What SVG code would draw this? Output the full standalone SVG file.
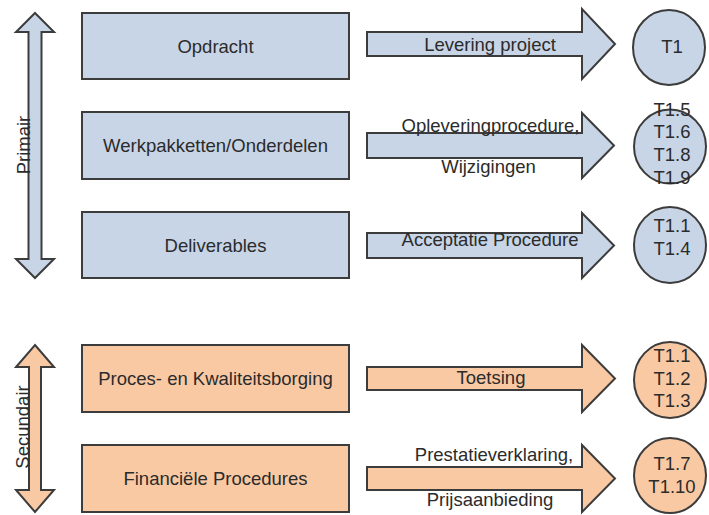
<svg xmlns="http://www.w3.org/2000/svg" width="709" height="515" viewBox="0 0 709 515">
  <style>
    .blue { fill: #c8d5e6; }
    .orange { fill: #f9c9a4; }
    .shape { stroke: #3c3c3c; stroke-width: 2; stroke-linejoin: miter; }
    text { font-family: "Liberation Sans", Arial, sans-serif; font-size: 18.5px; fill: #2b2b2b; }
    .mid { text-anchor: middle; }
  </style>
  <rect width="709" height="515" fill="#ffffff"/>

  <!-- vertical range arrows -->
  <g id="primair">
    <path class="shape blue" d="M35,13 L54,32 L41.5,32 L41.5,259 L54,259 L35,278 L16,259 L28.5,259 L28.5,32 L16,32 Z"/>
    <text class="mid" transform="translate(30,145) rotate(-90)">Primair</text>
  </g>
  <g id="secundair">
    <path class="shape orange" d="M35,345 L54,367 L41,367 L41,490 L54,490 L35,512 L16,490 L29,490 L29,367 L16,367 Z"/>
    <text class="mid" transform="translate(29,427) rotate(-90)">Secundair</text>
  </g>

  <!-- boxes -->
  <g id="opdracht">
    <rect class="shape blue" x="82" y="13" width="267" height="66"/>
    <text class="mid" x="215.5" y="52.5">Opdracht</text>
  </g>
  <g id="werkpakketten">
    <rect class="shape blue" x="82" y="112" width="267" height="67"/>
    <text class="mid" x="215.5" y="152">Werkpakketten/Onderdelen</text>
  </g>
  <g id="deliverables">
    <rect class="shape blue" x="82" y="212" width="267" height="66"/>
    <text class="mid" x="215.5" y="251.5">Deliverables</text>
  </g>
  <g id="proces">
    <rect class="shape orange" x="82" y="345" width="267" height="67"/>
    <text class="mid" x="215.5" y="385">Proces- en Kwaliteitsborging</text>
  </g>
  <g id="financieel">
    <rect class="shape orange" x="82" y="445" width="267" height="67"/>
    <text class="mid" x="215.5" y="485">Financiële Procedures</text>
  </g>

  <!-- connectors: block arrows with labels -->
  <g id="connectors">
    <path class="shape blue" d="M367,32 L582,32 L582,9 L615,44 L582,79 L582,56 L367,56 Z"/>
    <path class="shape blue" d="M367,133 L582,133 L582,113 L614,145.5 L582,178 L582,158 L367,158 Z"/>
    <path class="shape blue" d="M367,233 L582,233 L582,213 L614,245.5 L582,278 L582,258 L367,258 Z"/>
    <path class="shape orange" d="M367,367 L582,367 L582,345 L615,378.5 L582,412 L582,390 L367,390 Z"/>
    <path class="shape orange" d="M367,467 L582,467 L582,445 L615,478.5 L582,512 L582,490 L367,490 Z"/>
    <text class="mid" x="490" y="51">Levering project</text>
    <text class="mid" x="490.5" y="131.5">Opleveringprocedure,</text>
    <text class="mid" x="488.5" y="173">Wijzigingen</text>
    <text class="mid" x="490" y="246">Acceptatie Procedure</text>
    <text class="mid" x="491" y="384">Toetsing</text>
    <text class="mid" x="494" y="461">Prestatieverklaring,</text>
    <text class="mid" x="490" y="506">Prijsaanbieding</text>
  </g>

  <!-- target circles -->
  <g id="t1">
    <ellipse class="shape blue" cx="669" cy="47.5" rx="36" ry="37.5"/>
    <text class="mid" x="672" y="53">T1</text>
  </g>
  <g id="t15-t19">
    <ellipse class="shape blue" cx="670" cy="146.5" rx="36" ry="37"/>
    <text class="mid" x="672" y="115.5">T1.5</text>
    <text class="mid" x="672" y="138">T1.6</text>
    <text class="mid" x="672" y="161">T1.8</text>
    <text class="mid" x="672" y="183.5">T1.9</text>
  </g>
  <g id="t11-t14">
    <ellipse class="shape blue" cx="670" cy="245" rx="36" ry="38"/>
    <text class="mid" x="672" y="232">T1.1</text>
    <text class="mid" x="672" y="255">T1.4</text>
  </g>
  <g id="t11-t13">
    <ellipse class="shape orange" cx="670" cy="380" rx="36" ry="38"/>
    <text class="mid" x="672" y="362">T1.1</text>
    <text class="mid" x="672" y="385">T1.2</text>
    <text class="mid" x="672" y="407">T1.3</text>
  </g>
  <g id="t17-t110">
    <ellipse class="shape orange" cx="670" cy="475.5" rx="36" ry="37.5"/>
    <text class="mid" x="672" y="470">T1.7</text>
    <text class="mid" x="672" y="493">T1.10</text>
  </g>
</svg>
